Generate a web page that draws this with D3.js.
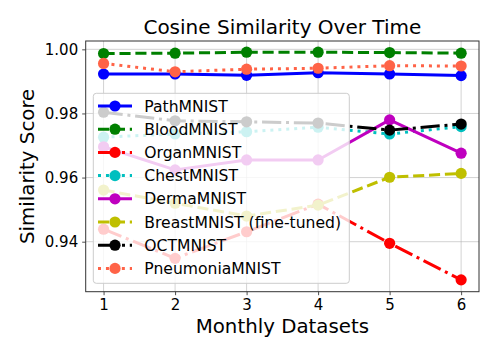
<!DOCTYPE html>
<html><head><meta charset="utf-8">
<script src="https://cdn.jsdelivr.net/npm/d3@7"></script>
<style>body{margin:0;background:#fff}svg{display:block}text{font-family:"DejaVu Sans",sans-serif}</style>
</head><body>
<svg id="c" width="498" height="356"></svg>
<script>
const months = [1, 2, 3, 4, 5, 6];
const xTicks = [1, 2, 3, 4, 5, 6];
const yTicks = [0.94, 0.96, 0.98, 1.00];
const seriesNames = ["PathMNIST","BloodMNIST","OrganMNIST","ChestMNIST","DermaMNIST","BreastMNIST (fine-tuned)","OCTMNIST","PneumoniaMNIST"];
const pathVals   = [0.9923, 0.9923, 0.9919, 0.9927, 0.9923, 0.9918];
const bloodVals  = [0.9987, 0.9988, 0.9991, 0.9991, 0.9990, 0.9988];
const organVals  = [0.9439, 0.9348, 0.9431, 0.9517, 0.9395, 0.9281];
const chestVals  = [0.9726, 0.9736, 0.9743, 0.9757, 0.9736, 0.9759];
const dermaVals  = [0.9696, 0.9624, 0.9655, 0.9655, 0.9780, 0.9676];
const breastVals = [0.9561, 0.9520, 0.9480, 0.9514, 0.9601, 0.9613];
const octVals    = [0.9804, 0.9777, 0.9774, 0.9770, 0.9748, 0.9767];
const pneuVals   = [0.9956, 0.9930, 0.9938, 0.9941, 0.9949, 0.9948];
const allVals = [pathVals, bloodVals, organVals, chestVals, dermaVals, breastVals, octVals, pneuVals];
const colors = ["#0000ff","#008000","#ff0000","#00bfbf","#bf00bf","#bfbf00","#000000","#ff6347"];
const dashes = [null, "11.1,4.8", "19.2,4.8,3,4.8", "3,4.95", null, "11.1,4.8", "19.2,4.8,3,4.8", "3,4.95"];

const svg = d3.select("#c");
const L = 85.7, R = 479, T = 41, B = 291.7;
const x = d3.scaleLinear().domain([0.75, 6.25]).range([L, R]);
const y = d3.scaleLinear().domain([0.9244, 1.0026]).range([B, T]);

// grid
const g = svg.append("g");
g.selectAll(".gx").data(xTicks).join("line")
  .attr("x1", d => x(d)).attr("x2", d => x(d)).attr("y1", T).attr("y2", B)
  .attr("stroke", "#b0b0b0").attr("stroke-opacity", 0.7).attr("stroke-width", 0.8);
g.selectAll(".gy").data(yTicks).join("line")
  .attr("y1", d => y(d)).attr("y2", d => y(d)).attr("x1", L).attr("x2", R)
  .attr("stroke", "#b0b0b0").attr("stroke-opacity", 0.7).attr("stroke-width", 0.8);

// axes
const xAxis = d3.axisBottom(x).tickValues(xTicks).tickFormat(d3.format("d")).tickSize(3.5).tickPadding(4);
const yAxis = d3.axisLeft(y).tickValues(yTicks).tickFormat(d3.format(".2f")).tickSize(3.5).tickPadding(4);
const xa = svg.append("g").attr("transform", `translate(0,${B})`).call(xAxis);
const ya = svg.append("g").attr("transform", `translate(${L},0)`).call(yAxis);
[xa, ya].forEach(a => {
  a.select(".domain").remove();
  a.selectAll("line").attr("stroke", "#222").attr("stroke-width", 0.8);
  a.selectAll("text").attr("font-size", 15).attr("fill", "#000").attr("font-family", "DejaVu Sans");
});

// lines
const line = d3.line().x((d, i) => x(months[i])).y(d => y(d));
allVals.forEach((vals, k) => {
  const p = svg.append("path").datum(vals).attr("d", line)
    .attr("fill", "none").attr("stroke", colors[k]).attr("stroke-width", 3)
    .attr("stroke-linejoin", "round");
  if (dashes[k]) p.attr("stroke-dasharray", dashes[k]);
  svg.append("g").selectAll("circle").data(vals).join("circle")
    .attr("cx", (d, i) => x(months[i])).attr("cy", d => y(d)).attr("r", 5.6).attr("fill", colors[k]);
});

// frame
svg.append("rect").attr("x", L).attr("y", T).attr("width", R - L).attr("height", B - T)
  .attr("fill", "none").attr("stroke", "#333").attr("stroke-width", 1);

// legend
const lg = svg.append("g");
lg.append("rect").attr("x", 93.3).attr("y", 93.3).attr("width", 256).attr("height", 190)
  .attr("rx", 3).attr("fill", "#fff").attr("fill-opacity", 0.8)
  .attr("stroke", "#cccccc").attr("stroke-width", 1);
seriesNames.forEach((name, k) => {
  const cy = 106 + k * 23.2;
  const h = lg.append("line").attr("x1", 98).attr("x2", 132).attr("y1", cy).attr("y2", cy)
    .attr("stroke", colors[k]).attr("stroke-width", 3);
  if (dashes[k]) h.attr("stroke-dasharray", dashes[k]);
  lg.append("circle").attr("cx", 115).attr("cy", cy).attr("r", 5.6).attr("fill", colors[k]);
  lg.append("text").attr("x", 144.3).attr("y", cy).attr("dy", "0.36em")
    .attr("font-size", 15.6).text(name);
});

// title and labels
svg.append("text").attr("x", (L + R) / 2).attr("y", 33.5).attr("text-anchor", "middle")
  .attr("font-size", 20).text("Cosine Similarity Over Time");
svg.append("text").attr("x", (L + R) / 2).attr("y", 333).attr("text-anchor", "middle")
  .attr("font-size", 19.8).text("Monthly Datasets");
svg.append("text").attr("transform", `translate(34,${(T + B) / 2}) rotate(-90)`)
  .attr("text-anchor", "middle").attr("font-size", 19.8).text("Similarity Score");
</script>
</body></html>
